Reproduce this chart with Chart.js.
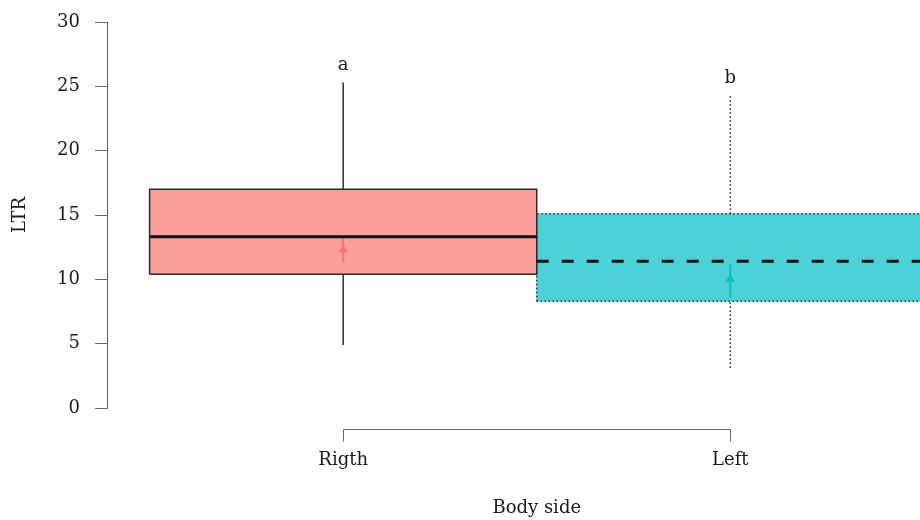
<!DOCTYPE html>
<html>
<head>
<meta charset="utf-8">
<script src="https://cdn.jsdelivr.net/npm/chart.js@4.4.1/dist/chart.umd.min.js"></script>
<style>
  html, body { margin: 0; padding: 0; background: #ffffff; }
  #wrap { width: 920px; height: 520px; }
</style>
</head>
<body>
<div id="wrap"><canvas id="c" width="920" height="520"></canvas></div>
<script>
// Box-plot summary of LTR by body side
const categories = ['Rigth', 'Left'];
const whiskerLow = [4.9, 3.1];
const q1 = [10.4, 8.3];
const median = [13.3, 11.4];
const q3 = [17.0, 15.1];
const whiskerHigh = [25.3, 24.3];
const meanValue = [12.3, 10.0];
const meanLow = [11.3, 8.6];
const meanHigh = [13.2, 11.2];
const groupLetters = ['a', 'b'];
const yTicks = [0, 5, 10, 15, 20, 25, 30];

// Styling per group
const fills = ['rgba(248,118,109,0.7)', 'rgba(0,191,196,0.7)'];
const markColors = ['#F8766D', '#00BFC4'];
const edgeDash = [[], [1.5, 2.5]];
const medianDash = [[], [12, 13]];
const edgeColor = '#2b2b2b';
const HALF = 0.5;   // half box width in category units
const FONT_SIZE = 18;

Chart.defaults.font.family = "'DejaVu Serif', serif";
Chart.defaults.color = '#1a1a1a';

const datasets = [{
  type: 'bar',
  label: 'box',
  data: categories.map((c, i) => ({ x: i + 1, y: [q1[i], q3[i]] })),
  backgroundColor: fills,
  borderWidth: 0,
  barPercentage: HALF * 2,
  categoryPercentage: 1,
  order: 10
}];

const lineBase = { type: 'line', pointRadius: 0, fill: false, tension: 0, order: 2 };

categories.forEach((c, i) => {
  const x = i + 1;
  // box outline
  datasets.push(Object.assign({}, lineBase, {
    label: c + ' box',
    data: [
      { x: x - HALF, y: q1[i] }, { x: x - HALF, y: q3[i] },
      { x: x + HALF, y: q3[i] }, { x: x + HALF, y: q1[i] },
      { x: x - HALF, y: q1[i] }
    ],
    borderColor: edgeColor, borderWidth: 1.5, borderDash: edgeDash[i]
  }));
  // whiskers
  datasets.push(Object.assign({}, lineBase, {
    label: c + ' lower whisker',
    data: [{ x: x, y: whiskerLow[i] }, { x: x, y: q1[i] }],
    borderColor: edgeColor, borderWidth: 1.5, borderDash: edgeDash[i]
  }));
  datasets.push(Object.assign({}, lineBase, {
    label: c + ' upper whisker',
    data: [{ x: x, y: q3[i] }, { x: x, y: whiskerHigh[i] }],
    borderColor: edgeColor, borderWidth: 1.5, borderDash: edgeDash[i]
  }));
  // median
  datasets.push(Object.assign({}, lineBase, {
    label: c + ' median',
    data: [{ x: x - HALF, y: median[i] }, { x: x + HALF, y: median[i] }],
    borderColor: '#111', borderWidth: 3, borderDash: medianDash[i], order: 1
  }));
  // mean with error bar
  datasets.push(Object.assign({}, lineBase, {
    label: c + ' mean range',
    data: [{ x: x, y: meanLow[i] }, { x: x, y: meanHigh[i] }],
    borderColor: markColors[i], borderWidth: 2, order: 1
  }));
  datasets.push({
    type: 'scatter',
    label: c + ' mean',
    data: [{ x: x, y: meanValue[i] }],
    pointStyle: 'triangle',
    pointRadius: 4.5,
    backgroundColor: markColors[i],
    borderColor: markColors[i],
    borderWidth: 1,
    order: 0
  });
});

// Group letters, x-axis bracket and x-axis title
const annotations = {
  id: 'annotations',
  afterDatasetsDraw(chart) {
    const { ctx, chartArea, scales } = chart;
    const xs = scales.x, ys = scales.y;
    ctx.save();
    ctx.fillStyle = '#1a1a1a';
    ctx.textAlign = 'center';
    ctx.textBaseline = 'middle';
    ctx.font = FONT_SIZE + "px 'DejaVu Serif', serif";
    groupLetters.forEach((t, i) => {
      ctx.fillText(t, xs.getPixelForValue(i + 1), ys.getPixelForValue(whiskerHigh[i]) - 17);
    });

    const x1 = xs.getPixelForValue(1);
    const x2 = xs.getPixelForValue(categories.length);
    const yb = Math.round(chartArea.bottom + 21) + 0.5;
    ctx.strokeStyle = '#666';
    ctx.lineWidth = 1;
    ctx.beginPath();
    ctx.moveTo(Math.round(x1) + 0.5, yb + 12);
    ctx.lineTo(Math.round(x1) + 0.5, yb);
    ctx.lineTo(Math.round(x2) + 0.5, yb);
    ctx.lineTo(Math.round(x2) + 0.5, yb + 12);
    ctx.stroke();

    ctx.fillText('Body side', (x1 + x2) / 2, chartArea.bottom + 100);
    ctx.restore();
  }
};

new Chart(document.getElementById('c'), {
  type: 'bar',
  data: { datasets },
  options: {
    responsive: false,
    animation: false,
    layout: { autoPadding: false, padding: { top: 22, right: 0, bottom: 0, left: 0 } },
    plugins: { legend: { display: false }, tooltip: { enabled: false } },
    scales: {
      x: {
        type: 'linear',
        offset: false,
        min: 0.39,
        max: 2.49,
        afterBuildTicks: s => { s.ticks = categories.map((c, i) => ({ value: i + 1 })); },
        afterFit: s => { s.height = 112; s.paddingLeft = 0; s.paddingRight = 0; },
        ticks: {
          callback: (v, i) => categories[i],
          autoSkip: false,
          maxRotation: 0,
          padding: 42,
          color: '#1a1a1a',
          font: { size: FONT_SIZE }
        },
        grid: { display: false, drawTicks: false },
        border: { display: false }
      },
      y: {
        min: 0,
        max: 30,
        afterBuildTicks: s => { s.ticks = yTicks.map(v => ({ value: v })); },
        afterFit: s => { s.width = 107; s.paddingTop = 0; s.paddingBottom = 0; },
        ticks: { padding: 15, color: '#1a1a1a', font: { size: FONT_SIZE } },
        grid: { drawOnChartArea: false, tickLength: 12, color: '#666' },
        border: { display: true, color: '#666', width: 1 },
        title: {
          display: true,
          text: 'LTR',
          color: '#1a1a1a',
          font: { size: FONT_SIZE },
          padding: { top: 10, bottom: 0 }
        }
      }
    }
  },
  plugins: [annotations]
});
</script>
</body>
</html>
